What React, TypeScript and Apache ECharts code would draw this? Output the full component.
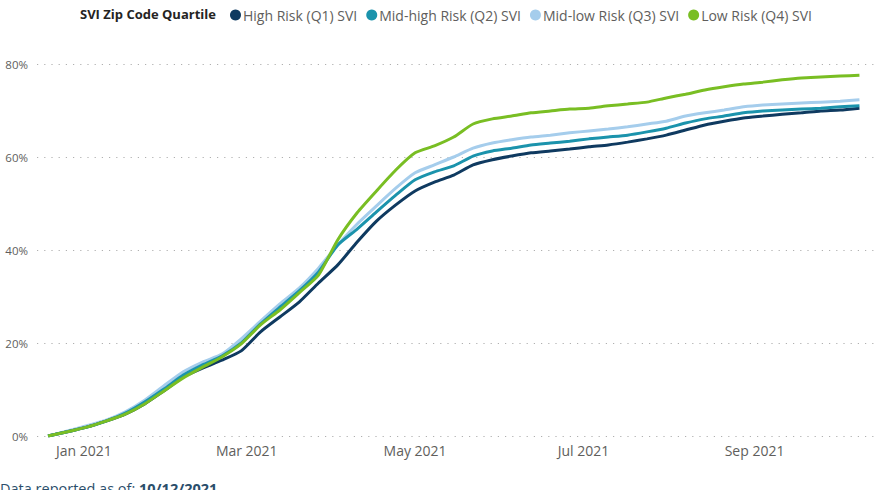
import React, { useEffect, useRef } from "react";
import * as echarts from "echarts";

const dates = [
  "2020-12-19", "2020-12-26", "2021-01-02", "2021-01-09", "2021-01-16", "2021-01-23", "2021-01-30",
  "2021-02-06", "2021-02-13", "2021-02-20", "2021-02-27", "2021-03-06", "2021-03-13", "2021-03-20",
  "2021-03-27", "2021-04-03", "2021-04-10", "2021-04-17", "2021-04-24", "2021-05-01", "2021-05-08",
  "2021-05-15", "2021-05-22", "2021-05-29", "2021-06-05", "2021-06-12", "2021-06-19", "2021-06-26",
  "2021-07-03", "2021-07-10", "2021-07-17", "2021-07-24", "2021-07-31", "2021-08-07", "2021-08-14",
  "2021-08-21", "2021-08-28", "2021-09-04", "2021-09-11", "2021-09-18", "2021-09-25", "2021-10-02",
  "2021-10-09",
];

const q1High = [
  0, 0.9, 1.9, 3.2, 4.7, 6.9, 9.7, 12.7, 14.6, 16.3, 18.3, 22.4, 25.6, 28.8, 32.9, 36.8, 41.7, 46.2,
  49.7, 52.7, 54.6, 56.1, 58.3, 59.4, 60.2, 60.9, 61.3, 61.7, 62.2, 62.6, 63.2, 63.9, 64.7, 65.8, 66.9,
  67.7, 68.4, 68.8, 69.2, 69.5, 69.9, 70.1, 70.5,
];
const q2MidHigh = [
  0, 0.9, 1.9, 3.2, 4.9, 7.3, 10.1, 13.1, 15.3, 17.2, 20.0, 24.1, 27.7, 31.2, 35.3, 41.1, 44.5, 48.2,
  51.8, 55.1, 56.8, 58.1, 60.2, 61.3, 61.9, 62.6, 63.0, 63.4, 63.9, 64.3, 64.7, 65.4, 66.2, 67.3, 68.2,
  68.8, 69.5, 69.9, 70.1, 70.3, 70.5, 70.8, 71.0,
];
const q3MidLow = [
  0, 1.1, 2.2, 3.4, 5.2, 7.7, 10.8, 13.8, 15.9, 17.6, 20.9, 24.7, 28.4, 31.8, 36.1, 41.1, 45.6, 49.5,
  53.3, 56.6, 58.3, 60.0, 61.9, 63.0, 63.7, 64.3, 64.7, 65.2, 65.6, 66.0, 66.5, 67.1, 67.7, 68.8, 69.5,
  70.1, 70.8, 71.2, 71.4, 71.6, 71.8, 72.0, 72.3,
];
const q4Low = [
  0, 0.9, 1.9, 3.2, 4.7, 6.9, 9.7, 12.5, 14.8, 17.0, 19.8, 23.9, 27.1, 30.8, 34.6, 42.2, 48.0, 52.7,
  57.2, 60.9, 62.4, 64.3, 67.1, 68.2, 68.8, 69.5, 69.9, 70.3, 70.5, 71.0, 71.4, 71.8, 72.7, 73.5, 74.4,
  75.1, 75.7, 76.1, 76.6, 77.0, 77.2, 77.4, 77.6,
];

const seriesNames = [
  "High Risk (Q1) SVI",
  "Mid-high Risk (Q2) SVI",
  "Mid-low Risk (Q3) SVI",
  "Low Risk (Q4) SVI",
];
const seriesColors = ["#0F3A60", "#1B93AC", "#A5CDEC", "#79BE23"];

const tickDates = ["2021-01-01", "2021-03-01", "2021-05-01", "2021-07-01", "2021-09-01"];
const tickLabels = ["Jan 2021", "Mar 2021", "May 2021", "Jul 2021", "Sep 2021"];

const yTicks = [0, 20, 40, 60, 80];

const DAY = 86400000;
const toTs = (d: string) => Date.UTC(+d.slice(0, 4), +d.slice(5, 7) - 1, +d.slice(8, 10)) / DAY;

export default function App() {
  const ref = useRef<HTMLDivElement>(null);

  useEffect(() => {
    document.body.style.margin = "0";
    if (!ref.current) return;
    const chart = echarts.init(ref.current, undefined, { renderer: "svg" });
    const font = "'Segoe UI', 'Open Sans', sans-serif";
    const allSeries = [q1High, q2MidHigh, q3MidLow, q4Low];
    const tickTs = tickDates.map(toTs);

    chart.setOption({
      animation: false,
      textStyle: { fontFamily: font },
      title: {
        text: "SVI Zip Code Quartile",
        left: 75,
        top: 2,
        textStyle: { fontSize: 13, fontWeight: "bold", color: "#252423", fontFamily: font },
      },
      legend: {
        left: 225,
        top: 3,
        icon: "circle",
        itemWidth: 11,
        itemHeight: 11,
        itemGap: 9,
        data: seriesNames,
        textStyle: { fontSize: 14, color: "#605E5C", fontFamily: font, padding: [0, 0, 0, -3] },
      },
      grid: { left: 37, right: 0, top: 64, bottom: 54, containLabel: false },
      xAxis: {
        type: "value",
        min: toTs("2020-12-15"),
        max: toTs("2021-10-15"),
        axisLine: { show: false },
        axisTick: { show: false },
        splitLine: { show: false },
        axisLabel: {
          customValues: tickTs,
          formatter: (v: number) => {
            const i = tickTs.indexOf(v);
            return i >= 0 ? tickLabels[i] : "";
          },
          color: "#605E5C",
          fontSize: 14,
          margin: 7,
          fontFamily: font,
        },
      },
      yAxis: {
        type: "value",
        min: yTicks[0],
        max: yTicks[yTicks.length - 1],
        interval: 20,
        axisLine: { show: false },
        axisTick: { show: false },
        axisLabel: {
          formatter: "{value}%",
          color: "#605E5C",
          fontSize: 11.5,
          margin: 9,
          fontFamily: font,
        },
        splitLine: {
          show: true,
          lineStyle: { color: "#B0B0B0", width: 1.2, type: [1.2, 6] },
        },
      },
      series: allSeries.map((vals, si) => ({
        name: seriesNames[si],
        type: "line",
        data: dates.map((d, i) => [toTs(d), vals[i]]),
        showSymbol: false,
        symbol: "circle",
        smooth: 0.2,
        color: seriesColors[si],
        lineStyle: { width: 3, color: seriesColors[si] },
        z: si === 2 ? 1 : 2 + si,
      })),
      graphic: [
        {
          type: "text",
          left: 0,
          top: 481,
          style: {
            text: "{a|Data reported as of: }{b|10/12/2021}",
            rich: {
              a: { fontSize: 14.5, fill: "#2B4E6B", fontFamily: font },
              b: { fontSize: 14.5, fill: "#2B4E6B", fontWeight: "bold", fontFamily: font },
            },
          },
        },
      ],
    });

    return () => chart.dispose();
  }, []);

  return <div ref={ref} style={{ width: 876, height: 490 }} />;
}
